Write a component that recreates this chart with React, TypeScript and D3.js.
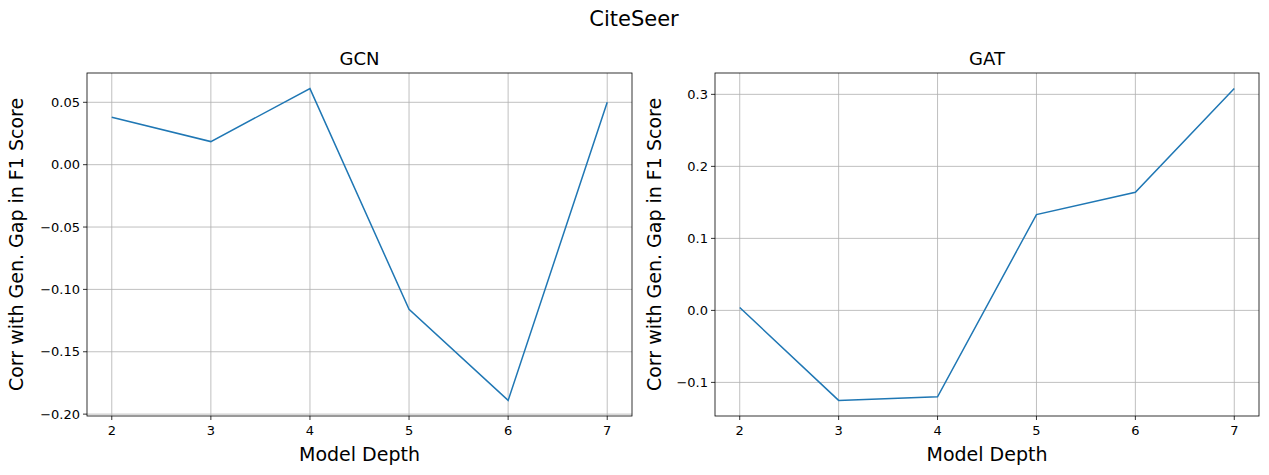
import React from 'react'
import * as d3 from 'd3'

const depths = [2, 3, 4, 5, 6, 7]
const gcnCorr = [0.038, 0.0185, 0.061, -0.116, -0.189, 0.05]
const gatCorr = [0.004, -0.125, -0.12, 0.133, 0.164, 0.308]
const gcnTicks = [-0.2, -0.15, -0.1, -0.05, 0.0, 0.05]
const gatTicks = [-0.1, 0.0, 0.1, 0.2, 0.3]

const W = 1269
const H = 475
const font = 'DejaVu Sans, sans-serif'

function Panel({ left, right, title, values, ticks, fmt }: {
    left: number; right: number; title: string; values: number[]; ticks: number[]; fmt: (v: number) => string
}) {
    const top = 73, bottom = 416
    const x = d3.scaleLinear().domain([1.75, 7.25]).range([left, right])
    const [mn, mx] = d3.extent(values) as [number, number]
    const pad = (mx - mn) * 0.05
    const y = d3.scaleLinear().domain([mn - pad, mx + pad]).range([bottom, top])
    const line = d3.line<number>().x((_, i) => x(depths[i])).y(d => y(d))

    return (
        <g fontFamily={font}>
            {/* grid */}
            {depths.map(d => (
                <line key={'gx' + d} x1={x(d)} x2={x(d)} y1={top} y2={bottom} stroke="#b0b0b0" strokeWidth={0.8} />
            ))}
            {ticks.map(t => (
                <line key={'gy' + t} x1={left} x2={right} y1={y(t)} y2={y(t)} stroke="#b0b0b0" strokeWidth={0.8} />
            ))}
            <path d={line(values) ?? ''} fill="none" stroke="#1f77b4" strokeWidth={1.5} />
            <rect x={left} y={top} width={right - left} height={bottom - top} fill="none" stroke="#000" strokeWidth={0.8} />
            {depths.map(d => (
                <g key={'xt' + d}>
                    <line x1={x(d)} x2={x(d)} y1={bottom} y2={bottom + 4} stroke="#000" strokeWidth={0.8} />
                    <text x={x(d)} y={bottom + 19} textAnchor="middle" fontSize={13}>{d}</text>
                </g>
            ))}
            {ticks.map(t => (
                <g key={'yt' + t}>
                    <line x1={left - 4} x2={left} y1={y(t)} y2={y(t)} stroke="#000" strokeWidth={0.8} />
                    <text x={left - 7} y={y(t)} dy="0.35em" textAnchor="end" fontSize={13}>{fmt(t)}</text>
                </g>
            ))}
            <text x={(left + right) / 2} y={65} textAnchor="middle" fontSize={18}>{title}</text>
            <text x={(left + right) / 2} y={461} textAnchor="middle" fontSize={19}>Model Depth</text>
            <text transform={`translate(${left === 87 ? 23 : 661},${(top + bottom) / 2}) rotate(-90)`} textAnchor="middle" fontSize={19}>
                Corr with Gen. Gap in F1 Score
            </text>
        </g>
    )
}

export default function App() {
    const fmt2 = (v: number) => (v < 0 ? '\u2212' : '') + Math.abs(v).toFixed(2)
    const fmt1 = (v: number) => (v < 0 ? '\u2212' : '') + Math.abs(v).toFixed(1)
    return (
        <div style={{ position: 'fixed', left: 0, top: 0 }}>
            <svg width={W} height={H} style={{ display: 'block', background: '#fff' }}>
                <text x={634} y={26} textAnchor="middle" fontSize={21} fontFamily={font}>CiteSeer</text>
                <Panel left={87} right={632} title="GCN" values={gcnCorr} ticks={gcnTicks} fmt={fmt2} />
                <Panel left={715} right={1259} title="GAT" values={gatCorr} ticks={gatTicks} fmt={fmt1} />
            </svg>
        </div>
    )
}
